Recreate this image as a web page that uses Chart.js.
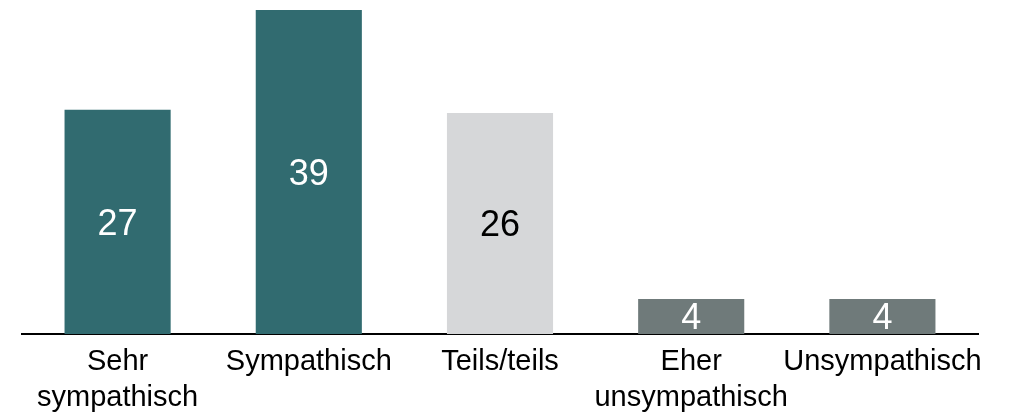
<!DOCTYPE html>
<html>
<head>
<meta charset="utf-8">
<script src="https://cdn.jsdelivr.net/npm/chart.js@4"></script>
<style>
  body { margin: 0; background: #fff; }
  #wrap { width: 1010px; height: 416px; }
</style>
</head>
<body>
<div id="wrap"><canvas id="chart" width="1010" height="416"></canvas></div>
<script>
// categories and values
const labels = [['Sehr', 'sympathisch'], 'Sympathisch', 'Teils/teils', ['Eher', 'unsympathisch'], 'Unsympathisch'];
const values = [27, 39, 26.6, 4.2, 4.2];
const shown = [27, 39, 26, 4, 4];
const barColors = ['#316b70', '#316b70', '#d6d7d9', '#6f7a7a', '#6f7a7a'];
const textColors = ['#ffffff', '#ffffff', '#000000', '#ffffff', '#ffffff'];

// draw the value in the middle of each bar
const barText = {
    id: 'barText',
    afterDatasetsDraw(chart) {
        const ctx = chart.ctx;
        const meta = chart.getDatasetMeta(0);
        ctx.save();
        ctx.font = '36px "Liberation Sans", Arial, sans-serif';
        ctx.textAlign = 'center';
        ctx.textBaseline = 'middle';
        meta.data.forEach((bar, i) => {
            ctx.fillStyle = textColors[i];
            ctx.fillText(shown[i], bar.x, (bar.y + bar.base) / 2 + 3);
        });
        ctx.restore();
    }
};

const ctx = document.getElementById('chart').getContext('2d');
new Chart(ctx, {
    type: 'bar',
    data: {
        labels: labels,
        datasets: [{
            data: values,
            backgroundColor: barColors,
            borderWidth: 0,
            barPercentage: 0.555,
            categoryPercentage: 1
        }]
    },
    options: {
        responsive: false,
        animation: false,
        layout: { padding: { left: 22, right: 32, top: 10, bottom: 0 } },
        plugins: { legend: { display: false }, tooltip: { enabled: false } },
        scales: {
            x: {
                afterFit(scale) { scale.height = 82; },
                grid: { display: false },
                border: { display: true, color: '#000000', width: 2 },
                ticks: {
                    color: '#000000',
                    maxRotation: 0,
                    autoSkip: false,
                    padding: 2,
                    font: { family: '"Liberation Sans", Arial, sans-serif', size: 29, lineHeight: 1.24 }
                }
            },
            y: {
                display: false,
                min: 0,
                max: 39
            }
        }
    },
    plugins: [barText]
});
</script>
</body>
</html>
